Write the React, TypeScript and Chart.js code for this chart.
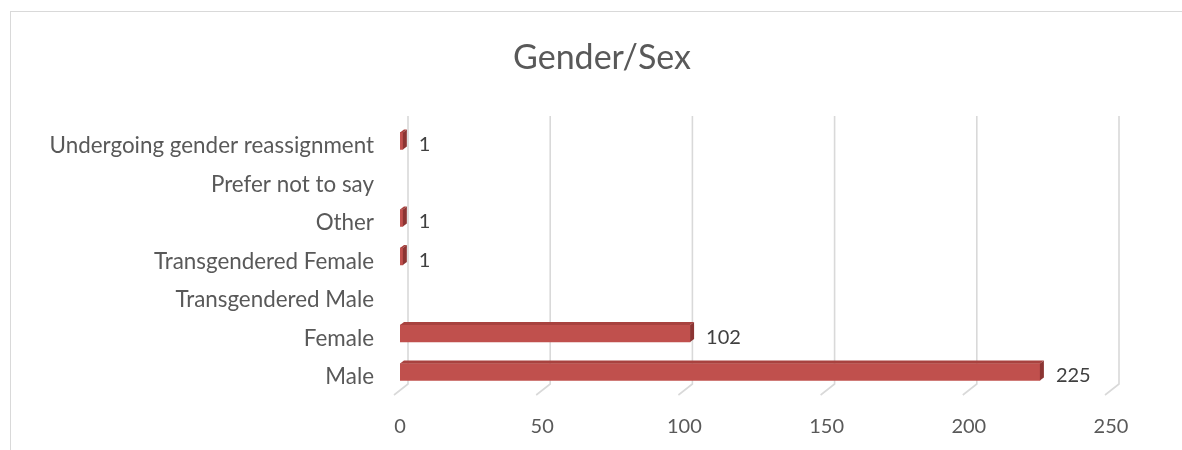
import React, { useEffect, useRef } from "react";
import { Chart, registerables } from "chart.js";

Chart.register(...registerables);

const categories = [
  "Male",
  "Female",
  "Transgendered Male",
  "Transgendered Female",
  "Other",
  "Prefer not to say",
  "Undergoing gender reassignment",
];
const counts = [225, 102, 0, 1, 1, 0, 1];
const xTicks = [0, 50, 100, 150, 200, 250];
const chartTitle = "Gender/Sex";

const FONT = "Lato, 'Open Sans', sans-serif";
const TEXT = "#595959";
const GRID = "#d9d9d9";
const FRONT = "#c0504d";
const TOP = "#a8423f";
const SIDE = "#8c3533";
const DX = 4;
const DY = -3;

const threeD = {
  id: "threeD",
  beforeDatasetsDraw(chart: any) {
    const ctx = chart.ctx;
    const xs = chart.scales.x;
    ctx.save();
    ctx.strokeStyle = GRID;
    ctx.lineWidth = 1.6;
    xTicks.forEach((v) => {
      const px = xs.getPixelForValue(v);
      ctx.beginPath();
      ctx.moveTo(px + 8, 104);
      ctx.lineTo(px + 8, 372);
      ctx.lineTo(px - 6, 383);
      ctx.stroke();
    });
    ctx.restore();
  },
  afterDatasetsDraw(chart: any) {
    const ctx = chart.ctx;
    const meta = chart.getDatasetMeta(0);
    ctx.save();
    meta.data.forEach((bar: any, i: number) => {
      const v = counts[i];
      if (!v) return;
      const left = bar.base;
      const right = bar.x;
      const top = bar.y - bar.height / 2;
      const bottom = bar.y + bar.height / 2;
      ctx.fillStyle = TOP;
      ctx.beginPath();
      ctx.moveTo(left, top);
      ctx.lineTo(left + DX, top + DY);
      ctx.lineTo(right + DX, top + DY);
      ctx.lineTo(right, top);
      ctx.closePath();
      ctx.fill();
      ctx.fillStyle = SIDE;
      ctx.beginPath();
      ctx.moveTo(right, top);
      ctx.lineTo(right + DX, top + DY);
      ctx.lineTo(right + DX, bottom + DY);
      ctx.lineTo(right, bottom);
      ctx.closePath();
      ctx.fill();
      ctx.fillStyle = "#404040";
      ctx.font = `20px ${FONT}`;
      ctx.textAlign = "left";
      ctx.textBaseline = "middle";
      ctx.fillText(String(v), right + 16, bar.y + 4);
    });
    ctx.restore();
  },
};

export default function App() {
  const ref = useRef<HTMLCanvasElement>(null);
  useEffect(() => {
    document.body.style.margin = "0";
    document.body.style.overflow = "hidden";
    const chart = new Chart(ref.current!, {
      type: "bar",
      data: {
        labels: categories,
        datasets: [
          {
            data: counts,
            backgroundColor: counts.map((v) => (v ? FRONT : "rgba(0,0,0,0)")),
            barThickness: 17,
            borderWidth: 0,
          },
        ],
      },
      plugins: [threeD],
      options: {
        indexAxis: "y",
        animation: false,
        responsive: false,
        maintainAspectRatio: false,
        layout: { padding: 0 },
        plugins: {
          legend: { display: false },
          tooltip: { enabled: false },
          title: {
            display: true,
            text: chartTitle,
            color: TEXT,
            font: { family: FONT, size: 34, weight: "normal" },
            padding: { top: 25.2, bottom: 43.7 },
          },
        },
        scales: {
          x: {
            min: 0,
            max: 250,
            afterBuildTicks: (s: any) => {
              s.ticks = xTicks.map((v) => ({ value: v }));
            },
            afterFit: (s: any) => {
              s.height = 58.75;
            },
            grid: { display: false, drawTicks: false },
            border: { display: false },
            ticks: {
              color: TEXT,
              font: { family: FONT, size: 20 },
              padding: 23,
              maxRotation: 0,
            },
          },
          y: {
            reverse: true,
            afterFit: (s: any) => {
              s.width = 389;
            },
            grid: { display: false, drawTicks: false },
            border: { display: false },
            ticks: {
              color: TEXT,
              font: { family: FONT, size: 22.4 },
              padding: 26,
              labelOffset: 5,
              autoSkip: false,
            },
          },
          yRight: {
            type: "linear",
            position: "right",
            display: true,
            afterFit: (s: any) => {
              s.width = 82;
            },
            grid: { display: false, drawTicks: false },
            border: { display: false },
            ticks: { display: false },
          },
        },
      },
    });
    return () => chart.destroy();
  }, []);
  return (
    <div style={{ position: "fixed", left: 0, top: 0, width: 1182, height: 450, overflow: "hidden", background: "#fff" }}>
      <div
        style={{
          position: "absolute",
          left: 10,
          top: 11,
          width: 1182,
          height: 450,
          borderLeft: `1px solid ${GRID}`,
          borderTop: `1px solid ${GRID}`,
        }}
      >
        <canvas ref={ref} width={1182} height={438} style={{ display: "block", width: 1182, height: 438 }} />
      </div>
    </div>
  );
}
